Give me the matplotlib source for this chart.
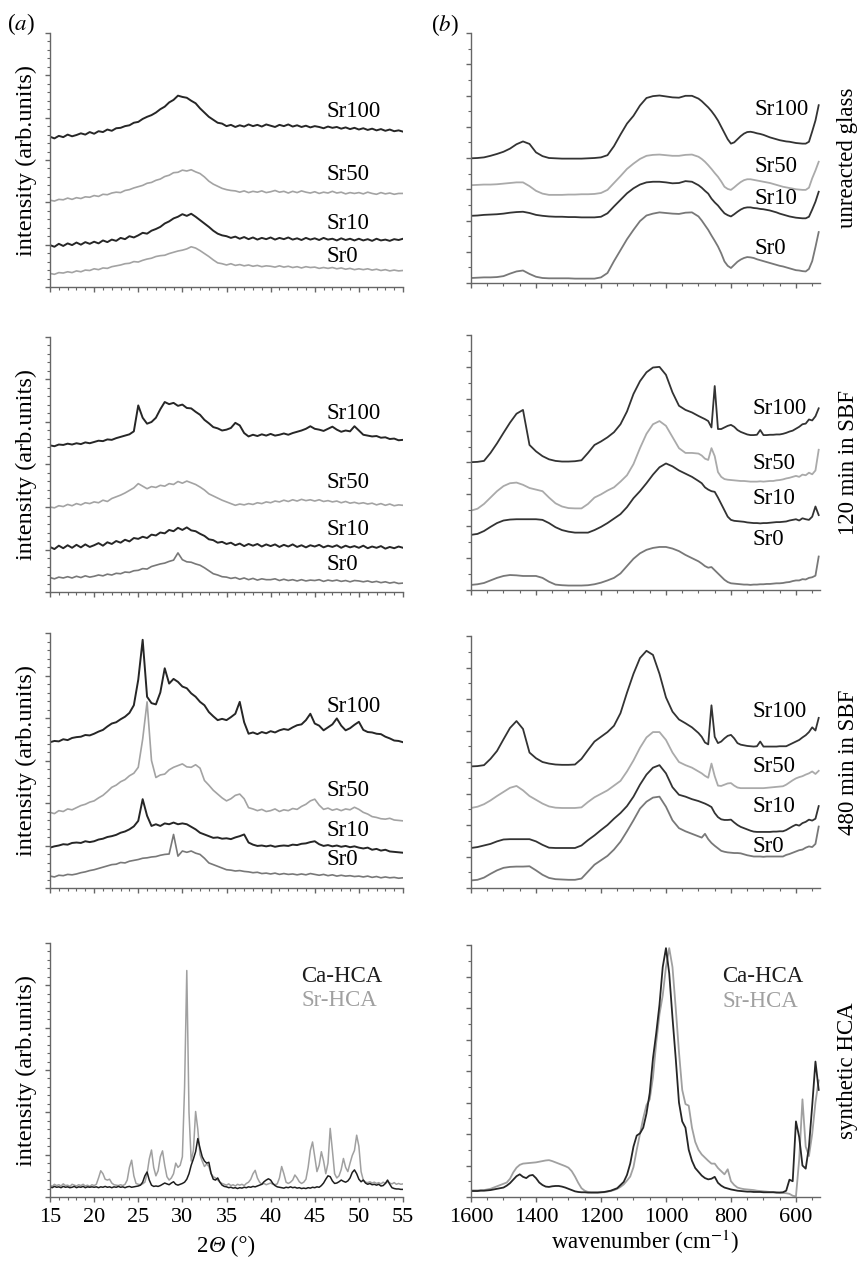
import numpy as np
import matplotlib
matplotlib.use("Agg")
import matplotlib.pyplot as plt
from matplotlib.ticker import MultipleLocator
from matplotlib.offsetbox import TextArea, HPacker, AnchoredOffsetbox

# ---------------------------------------------------------------- data
samples = ["Sr100", "Sr50", "Sr10", "Sr0"]
conditions = ["unreacted glass", "120 min in SBF", "480 min in SBF", "synthetic HCA"]
hca_names = ["Ca-HCA", "Sr-HCA"]

# XRD sampling (2 theta, degrees)
two_theta = np.arange(15, 55.01, 0.5)
two_theta_hca = np.arange(15, 55.01, 0.25)

# XRD, unreacted glass
xrd_glass_sr100 = [3.55, 3.51, 3.57, 3.54, 3.60, 3.56, 3.59, 3.63, 3.60, 3.66,
                   3.62, 3.68, 3.66, 3.72, 3.69, 3.75, 3.76, 3.80, 3.82, 3.88,
                   3.90, 3.97, 4.02, 4.06, 4.12, 4.20, 4.26, 4.36, 4.42, 4.52,
                   4.49, 4.47, 4.40, 4.34, 4.22, 4.12, 4.02, 3.95, 3.88, 3.86,
                   3.80, 3.83, 3.78, 3.82, 3.79, 3.84, 3.80, 3.83, 3.79, 3.84,
                   3.81, 3.78, 3.83, 3.80, 3.84, 3.79, 3.82, 3.78, 3.81, 3.77,
                   3.80, 3.78, 3.75, 3.79, 3.76, 3.78, 3.74, 3.77, 3.73, 3.76,
                   3.72, 3.75, 3.71, 3.74, 3.70, 3.73, 3.69, 3.72, 3.68, 3.70,
                   3.67]
xrd_glass_sr50 = [2.05, 2.03, 2.07, 2.06, 2.10, 2.07, 2.11, 2.09, 2.13, 2.12,
                  2.16, 2.14, 2.19, 2.18, 2.22, 2.24, 2.23, 2.28, 2.30, 2.34,
                  2.37, 2.40, 2.45, 2.47, 2.52, 2.55, 2.61, 2.64, 2.70, 2.71,
                  2.76, 2.74, 2.77, 2.72, 2.68, 2.60, 2.50, 2.43, 2.38, 2.33,
                  2.30, 2.28, 2.27, 2.24, 2.27, 2.23, 2.26, 2.24, 2.27, 2.23,
                  2.25, 2.28, 2.24, 2.26, 2.22, 2.26, 2.23, 2.27, 2.24, 2.22,
                  2.25, 2.21, 2.24, 2.22, 2.26, 2.22, 2.24, 2.20, 2.23, 2.21,
                  2.23, 2.20, 2.24, 2.21, 2.19, 2.23, 2.20, 2.22, 2.19, 2.21,
                  2.21]
xrd_glass_sr10 = [0.99, 0.95, 1.02, 0.97, 1.03, 0.99, 1.05, 1.00, 1.06, 1.02,
                  1.07, 1.03, 1.10, 1.06, 1.12, 1.09, 1.16, 1.13, 1.20, 1.17,
                  1.22, 1.28, 1.26, 1.33, 1.37, 1.42, 1.50, 1.55, 1.62, 1.66,
                  1.72, 1.68, 1.73, 1.66, 1.58, 1.50, 1.42, 1.33, 1.26, 1.22,
                  1.20, 1.16, 1.19, 1.14, 1.18, 1.13, 1.17, 1.12, 1.16, 1.13,
                  1.17, 1.12, 1.16, 1.13, 1.17, 1.12, 1.15, 1.11, 1.16, 1.12,
                  1.15, 1.11, 1.16, 1.12, 1.14, 1.10, 1.15, 1.11, 1.14, 1.10,
                  1.14, 1.10, 1.13, 1.09, 1.14, 1.10, 1.12, 1.09, 1.13, 1.11,
                  1.14]
xrd_glass_sr0 = [0.32, 0.30, 0.34, 0.33, 0.36, 0.34, 0.38, 0.36, 0.40, 0.39,
                 0.43, 0.41, 0.45, 0.44, 0.48, 0.50, 0.52, 0.55, 0.56, 0.60,
                 0.59, 0.63, 0.66, 0.68, 0.72, 0.74, 0.75, 0.79, 0.82, 0.85,
                 0.87, 0.90, 0.95, 0.92, 0.86, 0.79, 0.72, 0.64, 0.57, 0.55,
                 0.52, 0.55, 0.51, 0.53, 0.50, 0.52, 0.49, 0.51, 0.48, 0.50,
                 0.49, 0.47, 0.50, 0.47, 0.49, 0.46, 0.48, 0.45, 0.48, 0.46,
                 0.47, 0.44, 0.46, 0.44, 0.46, 0.43, 0.45, 0.42, 0.44, 0.41,
                 0.43, 0.41, 0.43, 0.40, 0.42, 0.39, 0.41, 0.38, 0.40, 0.38,
                 0.39]

# XRD, 120 min in SBF
xrd_120_sr100 = [3.45, 3.43, 3.47, 3.46, 3.49, 3.47, 3.50, 3.48, 3.52, 3.50,
                 3.53, 3.56, 3.55, 3.59, 3.58, 3.62, 3.65, 3.68, 3.71, 3.78,
                 4.39, 4.10, 3.96, 4.00, 4.10, 4.30, 4.47, 4.42, 4.45, 4.38,
                 4.41, 4.33, 4.32, 4.24, 4.17, 4.05, 3.97, 3.88, 3.85, 3.80,
                 3.82, 3.86, 3.98, 3.92, 3.74, 3.66, 3.70, 3.67, 3.71, 3.68,
                 3.72, 3.68, 3.70, 3.73, 3.70, 3.74, 3.77, 3.80, 3.84, 3.90,
                 3.84, 3.82, 3.79, 3.84, 3.89, 3.82, 3.77, 3.80, 3.78, 3.90,
                 3.80, 3.70, 3.68, 3.66, 3.67, 3.63, 3.64, 3.60, 3.61, 3.57,
                 3.58]
xrd_120_sr50 = [2.00, 1.98, 2.03, 2.01, 2.06, 2.03, 2.08, 2.05, 2.10, 2.08,
                2.12, 2.10, 2.16, 2.13, 2.20, 2.24, 2.28, 2.33, 2.39, 2.45,
                2.55, 2.49, 2.43, 2.48, 2.46, 2.51, 2.49, 2.55, 2.53, 2.60,
                2.56, 2.61, 2.57, 2.53, 2.47, 2.40, 2.31, 2.26, 2.21, 2.16,
                2.12, 2.08, 2.04, 2.07, 2.05, 2.08, 2.06, 2.10, 2.08, 2.12,
                2.10, 2.14, 2.12, 2.16, 2.13, 2.17, 2.14, 2.18, 2.15, 2.17,
                2.14, 2.17, 2.13, 2.15, 2.12, 2.14, 2.10, 2.13, 2.09, 2.11,
                2.08, 2.10, 2.07, 2.09, 2.05, 2.08, 2.04, 2.07, 2.03, 2.05,
                2.04]
xrd_120_sr10 = [1.06, 1.01, 1.09, 1.03, 1.10, 1.04, 1.11, 1.05, 1.12, 1.06,
                1.10, 1.15, 1.09, 1.17, 1.13, 1.20, 1.16, 1.23, 1.19, 1.27,
                1.25, 1.30, 1.27, 1.35, 1.33, 1.40, 1.38, 1.46, 1.43, 1.51,
                1.46, 1.52, 1.45, 1.43, 1.37, 1.32, 1.24, 1.22, 1.16, 1.18,
                1.13, 1.16, 1.10, 1.14, 1.08, 1.13, 1.09, 1.13, 1.07, 1.12,
                1.08, 1.12, 1.06, 1.11, 1.07, 1.12, 1.06, 1.10, 1.05, 1.10,
                1.07, 1.11, 1.05, 1.09, 1.06, 1.10, 1.04, 1.09, 1.05, 1.08,
                1.04, 1.09, 1.03, 1.07, 1.04, 1.08, 1.02, 1.06, 1.03, 1.07,
                1.04]
xrd_120_sr0 = [0.34, 0.31, 0.35, 0.33, 0.36, 0.33, 0.37, 0.34, 0.38, 0.35,
               0.37, 0.40, 0.38, 0.42, 0.40, 0.44, 0.43, 0.47, 0.46, 0.50,
               0.51, 0.55, 0.54, 0.60, 0.63, 0.66, 0.68, 0.72, 0.75, 0.92,
               0.76, 0.71, 0.70, 0.66, 0.63, 0.57, 0.50, 0.43, 0.40, 0.36,
               0.35, 0.32, 0.34, 0.30, 0.33, 0.29, 0.32, 0.28, 0.31, 0.29,
               0.29, 0.31, 0.27, 0.30, 0.27, 0.29, 0.26, 0.29, 0.26, 0.28,
               0.27, 0.29, 0.25, 0.28, 0.26, 0.28, 0.25, 0.27, 0.24, 0.27,
               0.26, 0.24, 0.26, 0.23, 0.25, 0.22, 0.24, 0.21, 0.23, 0.20,
               0.21]

# XRD, 480 min in SBF
xrd_480_sr100 = [3.43, 3.46, 3.45, 3.50, 3.48, 3.53, 3.55, 3.56, 3.60, 3.59,
                 3.63, 3.68, 3.72, 3.80, 3.87, 3.90, 3.97, 4.03, 4.12, 4.30,
                 4.90, 5.84, 4.50, 4.35, 4.32, 4.60, 5.17, 4.81, 4.92, 4.85,
                 4.74, 4.70, 4.58, 4.50, 4.38, 4.30, 4.14, 4.04, 3.95, 3.98,
                 3.95, 4.02, 4.10, 4.38, 3.90, 3.63, 3.66, 3.62, 3.67, 3.64,
                 3.69, 3.66, 3.71, 3.74, 3.72, 3.78, 3.83, 3.85, 3.95, 4.10,
                 3.87, 3.82, 3.71, 3.78, 3.85, 3.99, 3.82, 3.71, 3.76, 3.84,
                 3.91, 3.72, 3.67, 3.66, 3.63, 3.62, 3.56, 3.52, 3.47, 3.46,
                 3.43]
xrd_480_sr50 = [1.78, 1.75, 1.82, 1.80, 1.86, 1.84, 1.89, 1.94, 1.97, 2.02,
                2.05, 2.12, 2.18, 2.27, 2.37, 2.42, 2.50, 2.55, 2.64, 2.70,
                2.84, 3.50, 4.38, 3.00, 2.60, 2.66, 2.68, 2.78, 2.84, 2.88,
                2.92, 2.85, 2.84, 2.90, 2.82, 2.53, 2.42, 2.30, 2.21, 2.12,
                2.05, 2.10, 2.18, 2.21, 2.10, 1.89, 1.86, 1.82, 1.85, 1.80,
                1.82, 1.86, 1.80, 1.84, 1.82, 1.87, 1.85, 1.92, 1.97, 2.05,
                2.09, 1.95, 1.85, 1.88, 1.83, 1.86, 1.82, 1.86, 1.84, 1.90,
                1.85, 1.78, 1.74, 1.68, 1.66, 1.63, 1.62, 1.64, 1.60, 1.59,
                1.58]
xrd_480_sr10 = [0.95, 0.98, 1.00, 1.03, 1.02, 1.06, 1.07, 1.06, 1.10, 1.08,
                1.10, 1.14, 1.16, 1.20, 1.22, 1.25, 1.30, 1.33, 1.38, 1.45,
                1.58, 2.09, 1.70, 1.46, 1.50, 1.46, 1.52, 1.50, 1.54, 1.50,
                1.52, 1.50, 1.44, 1.38, 1.30, 1.26, 1.22, 1.18, 1.19, 1.16,
                1.17, 1.15, 1.19, 1.22, 1.26, 1.07, 1.02, 0.99, 1.00, 0.98,
                1.00, 0.97, 0.99, 1.00, 0.99, 1.02, 1.01, 1.04, 1.05, 1.08,
                1.10, 1.03, 0.99, 1.01, 0.98, 1.00, 0.97, 0.99, 0.96, 0.98,
                0.95, 0.93, 0.95, 0.90, 0.92, 0.88, 0.90, 0.86, 0.85, 0.84,
                0.83]
xrd_480_sr0 = [0.28, 0.26, 0.30, 0.29, 0.32, 0.31, 0.33, 0.36, 0.38, 0.41,
               0.43, 0.46, 0.49, 0.52, 0.55, 0.56, 0.60, 0.59, 0.63, 0.65,
               0.67, 0.70, 0.71, 0.73, 0.74, 0.77, 0.79, 0.80, 1.26, 0.75,
               0.87, 0.84, 0.87, 0.82, 0.79, 0.70, 0.59, 0.55, 0.51, 0.47,
               0.43, 0.42, 0.40, 0.41, 0.39, 0.38, 0.36, 0.37, 0.34, 0.35,
               0.33, 0.35, 0.32, 0.34, 0.32, 0.33, 0.31, 0.33, 0.31, 0.34,
               0.32, 0.30, 0.32, 0.29, 0.31, 0.28, 0.30, 0.28, 0.29, 0.27,
               0.28, 0.26, 0.28, 0.25, 0.27, 0.24, 0.26, 0.24, 0.25, 0.23,
               0.24]

# XRD, synthetic HCA (finer sampling)
xrd_hca_ca = [0.24, 0.22, 0.25, 0.23, 0.24, 0.22, 0.25, 0.23, 0.24, 0.22, 0.23, 0.25, 0.22, 0.24, 0.23, 0.25, 0.22, 0.24, 0.23, 0.24,
              0.23, 0.24, 0.22, 0.24, 0.23, 0.25, 0.23, 0.24, 0.22, 0.24, 0.23, 0.25, 0.23, 0.24, 0.22, 0.24, 0.25, 0.23, 0.24, 0.25,
              0.26, 0.28, 0.35, 0.50, 0.59, 0.40, 0.28, 0.25, 0.26, 0.25, 0.27, 0.30, 0.33, 0.31, 0.29, 0.33, 0.36, 0.30, 0.28, 0.30,
              0.32, 0.35, 0.42, 0.55, 0.75, 0.90, 1.07, 1.38, 1.15, 0.95, 0.85, 0.80, 0.82, 0.56, 0.42, 0.40, 0.45, 0.35, 0.28, 0.25,
              0.24, 0.22, 0.23, 0.21, 0.22, 0.20, 0.22, 0.21, 0.23, 0.22, 0.24, 0.23, 0.25, 0.24, 0.26, 0.28, 0.30, 0.36, 0.40, 0.43,
              0.40, 0.32, 0.27, 0.24, 0.23, 0.22, 0.21, 0.23, 0.22, 0.24, 0.22, 0.23, 0.21, 0.22, 0.20, 0.21, 0.20, 0.22, 0.21, 0.23,
              0.22, 0.24, 0.23, 0.27, 0.33, 0.42, 0.50, 0.48, 0.38, 0.32, 0.33, 0.36, 0.40, 0.37, 0.35, 0.38, 0.45, 0.58, 0.64, 0.55,
              0.42, 0.36, 0.40, 0.33, 0.30, 0.32, 0.29, 0.30, 0.28, 0.30, 0.26, 0.27, 0.32, 0.40, 0.30, 0.22, 0.20, 0.19, 0.19, 0.18,
              0.18]
xrd_hca_sr = [0.28, 0.25, 0.30, 0.27, 0.29, 0.26, 0.31, 0.27, 0.28, 0.25, 0.30, 0.28, 0.26, 0.29, 0.27, 0.30, 0.26, 0.28, 0.25, 0.29,
              0.27, 0.30, 0.45, 0.62, 0.55, 0.42, 0.40, 0.42, 0.33, 0.29, 0.28, 0.27, 0.29, 0.27, 0.30, 0.40, 0.70, 0.87, 0.50, 0.32,
              0.30, 0.29, 0.31, 0.35, 0.55, 0.90, 1.11, 0.70, 0.50, 0.62, 0.95, 1.09, 0.75, 0.48, 0.40, 0.45, 0.55, 0.80, 0.70, 0.75,
              0.95, 2.60, 5.35, 2.00, 0.85, 1.10, 2.02, 1.60, 1.00, 0.85, 0.72, 0.78, 0.72, 0.55, 0.48, 0.45, 0.40, 0.35, 0.32, 0.30,
              0.28, 0.31, 0.27, 0.29, 0.26, 0.30, 0.28, 0.30, 0.27, 0.32, 0.35, 0.42, 0.55, 0.63, 0.45, 0.35, 0.30, 0.32, 0.29, 0.31,
              0.33, 0.30, 0.29, 0.31, 0.45, 0.72, 0.55, 0.35, 0.32, 0.35, 0.40, 0.52, 0.45, 0.36, 0.32, 0.35, 0.42, 0.70, 1.10, 1.30,
              0.95, 0.60, 0.75, 1.07, 0.85, 0.55, 0.80, 1.62, 1.10, 0.55, 0.45, 0.50, 0.65, 0.91, 0.70, 0.60, 0.80, 0.98, 1.10, 1.46,
              1.20, 0.60, 0.40, 0.35, 0.34, 0.36, 0.33, 0.35, 0.32, 0.34, 0.31, 0.35, 0.32, 0.36, 0.33, 0.31, 0.34, 0.30, 0.32, 0.30,
              0.31]

# FTIR sampling (cm-1)
wavenumber = np.concatenate([np.arange(1600, 899, -20), np.arange(890, 529, -10)])
wavenumber_hca = np.arange(1600, 529, -10)

# FTIR, unreacted glass
ir_glass_sr100 = [3.99, 4.00, 4.02, 4.07, 4.13, 4.20, 4.30, 4.44, 4.53, 4.45,
                  4.18, 4.06, 4.00, 3.99, 3.98, 3.98, 3.98, 3.98, 3.99, 4.00,
                  4.02, 4.09, 4.38, 4.75, 5.10, 5.35, 5.68, 5.92, 5.98, 6.00,
                  5.97, 5.94, 5.93, 5.99, 5.99, 5.90,
                  5.82, 5.72, 5.62, 5.50, 5.36, 5.20, 5.00, 4.80, 4.60, 4.46,
                  4.50, 4.60, 4.70, 4.78, 4.83, 4.84, 4.82, 4.79, 4.77, 4.74,
                  4.70, 4.66, 4.63, 4.60, 4.57, 4.55, 4.53, 4.52, 4.50, 4.48,
                  4.47, 4.46, 4.46, 4.52, 4.85, 5.20, 5.69]
ir_glass_sr50 = [3.13, 3.14, 3.15, 3.15, 3.16, 3.18, 3.20, 3.22, 3.22, 3.10,
                 2.95, 2.86, 2.82, 2.82, 2.82, 2.83, 2.83, 2.84, 2.84, 2.85,
                 2.88, 2.98, 3.20, 3.42, 3.65, 3.82, 3.97, 4.07, 4.10, 4.11,
                 4.09, 4.07, 4.07, 4.10, 4.11, 4.04,
                 3.97, 3.88, 3.77, 3.65, 3.52, 3.40, 3.25, 3.08, 3.01, 2.98,
                 3.06, 3.15, 3.23, 3.29, 3.32, 3.32, 3.30, 3.28, 3.26, 3.24,
                 3.22, 3.20, 3.17, 3.14, 3.11, 3.08, 3.06, 3.04, 3.02, 3.00,
                 2.99, 2.98, 2.98, 3.05, 3.35, 3.60, 3.88]
ir_glass_sr10 = [2.15, 2.16, 2.18, 2.19, 2.20, 2.22, 2.25, 2.27, 2.28, 2.24,
                 2.18, 2.15, 2.13, 2.12, 2.12, 2.11, 2.11, 2.10, 2.10, 2.10,
                 2.12, 2.23, 2.45, 2.66, 2.87, 3.03, 3.15, 3.22, 3.24, 3.24,
                 3.22, 3.19, 3.20, 3.26, 3.24, 3.13,
                 3.05, 2.95, 2.86, 2.70, 2.58, 2.48, 2.35, 2.23, 2.17, 2.13,
                 2.20, 2.28, 2.35, 2.40, 2.42, 2.42, 2.40, 2.39, 2.37, 2.36,
                 2.34, 2.32, 2.29, 2.26, 2.22, 2.19, 2.16, 2.13, 2.11, 2.09,
                 2.08, 2.07, 2.07, 2.12, 2.35, 2.60, 2.92]
ir_glass_sr0 = [0.16, 0.17, 0.18, 0.18, 0.19, 0.22, 0.30, 0.37, 0.40, 0.29,
                0.20, 0.16, 0.15, 0.15, 0.15, 0.15, 0.14, 0.14, 0.14, 0.14,
                0.18, 0.32, 0.70, 1.05, 1.40, 1.70, 1.98, 2.16, 2.22, 2.26,
                2.24, 2.22, 2.21, 2.25, 2.26, 2.13,
                2.00, 1.85, 1.70, 1.52, 1.35, 1.17, 0.95, 0.69, 0.55, 0.48,
                0.58, 0.68, 0.75, 0.80, 0.83, 0.82, 0.80, 0.76, 0.73, 0.70,
                0.67, 0.64, 0.61, 0.58, 0.55, 0.53, 0.50, 0.47, 0.44, 0.41,
                0.40, 0.38, 0.37, 0.45, 0.70, 1.15, 1.63]

# FTIR, 120 min in SBF
ir_120_sr100 = [4.01, 4.02, 4.05, 4.30, 4.60, 4.93, 5.25, 5.53, 5.65, 4.55,
                4.35, 4.20, 4.10, 4.05, 4.03, 4.03, 4.04, 4.07, 4.30, 4.55,
                4.66, 4.79, 4.95, 5.20, 5.60, 6.15, 6.55, 6.83, 6.98, 7.00,
                6.75, 6.20, 5.78, 5.65, 5.57, 5.46,
                5.41, 5.36, 5.30, 5.10, 6.40, 5.05, 5.05, 5.10, 5.15, 5.18,
                5.12, 5.02, 4.96, 4.92, 4.88, 4.86, 4.86, 4.87, 5.02, 4.86,
                4.86, 4.87, 4.87, 4.88, 4.88, 4.90, 4.93, 4.97, 5.00, 5.06,
                5.12, 5.20, 5.22, 5.35, 5.32, 5.45, 5.70]
ir_120_sr50 = [2.49, 2.55, 2.70, 2.90, 3.10, 3.26, 3.35, 3.37, 3.30, 3.20,
               3.15, 3.10, 2.90, 2.72, 2.62, 2.57, 2.56, 2.56, 2.70, 2.90,
               3.00, 3.12, 3.22, 3.40, 3.60, 3.95, 4.45, 4.90, 5.20, 5.30,
               5.15, 4.80, 4.45, 4.30, 4.30, 4.28,
               4.22, 4.12, 4.08, 4.45, 4.20, 3.70, 3.55, 3.48, 3.46, 3.45,
               3.44, 3.43, 3.42, 3.42, 3.41, 3.40, 3.40, 3.40, 3.41, 3.40,
               3.41, 3.42, 3.42, 3.44, 3.45, 3.47, 3.50, 3.52, 3.55, 3.58,
               3.55, 3.62, 3.60, 3.68, 3.63, 3.75, 4.40]
ir_120_sr10 = [1.73, 1.76, 1.85, 1.98, 2.10, 2.18, 2.21, 2.22, 2.22, 2.22,
               2.22, 2.20, 2.10, 1.97, 1.88, 1.83, 1.80, 1.80, 1.80, 1.88,
               1.98, 2.10, 2.24, 2.38, 2.60, 2.88, 3.10, 3.35, 3.62, 3.85,
               3.97, 3.88, 3.75, 3.65, 3.55, 3.42,
               3.35, 3.22, 3.15, 3.10, 3.08, 2.90, 2.70, 2.50, 2.30, 2.20,
               2.17, 2.16, 2.15, 2.14, 2.12, 2.11, 2.10, 2.10, 2.09, 2.10,
               2.10, 2.11, 2.12, 2.13, 2.13, 2.14, 2.15, 2.18, 2.20, 2.22,
               2.18, 2.25, 2.22, 2.20, 2.30, 2.62, 2.35]
ir_120_sr0 = [0.16, 0.18, 0.22, 0.30, 0.38, 0.44, 0.47, 0.46, 0.44, 0.44,
              0.44, 0.38, 0.26, 0.17, 0.15, 0.14, 0.14, 0.14, 0.15, 0.18,
              0.23, 0.30, 0.38, 0.52, 0.75, 0.98, 1.15, 1.26, 1.32, 1.35,
              1.35, 1.30, 1.22, 1.10, 1.00, 0.90,
              0.83, 0.75, 0.70, 0.72, 0.62, 0.52, 0.42, 0.32, 0.25, 0.21,
              0.20, 0.19, 0.18, 0.17, 0.17, 0.16, 0.17, 0.17, 0.18, 0.18,
              0.19, 0.19, 0.20, 0.21, 0.21, 0.22, 0.24, 0.25, 0.28, 0.30,
              0.30, 0.34, 0.33, 0.38, 0.40, 0.45, 1.05]

# FTIR, 480 min in SBF
ir_480_sr100 = [3.86, 3.87, 3.90, 4.10, 4.35, 4.72, 5.08, 5.30, 5.05, 4.30,
                4.12, 4.00, 3.95, 3.92, 3.91, 3.91, 3.92, 4.10, 4.38, 4.65,
                4.80, 4.95, 5.15, 5.55, 6.20, 6.80, 7.30, 7.53, 7.40, 6.80,
                6.05, 5.60, 5.35, 5.23, 5.10, 4.92,
                4.80, 4.62, 4.56, 5.80, 4.80, 4.60, 4.65, 4.75, 4.83, 4.86,
                4.75, 4.60, 4.55, 4.53, 4.51, 4.50, 4.49, 4.50, 4.65, 4.49,
                4.49, 4.49, 4.49, 4.49, 4.50, 4.50, 4.50, 4.55, 4.60, 4.65,
                4.70, 4.78, 4.85, 4.95, 5.10, 5.00, 5.40]
ir_480_sr50 = [2.54, 2.58, 2.66, 2.78, 2.92, 3.05, 3.18, 3.24, 3.10, 2.92,
               2.80, 2.68, 2.59, 2.55, 2.54, 2.54, 2.54, 2.56, 2.73, 2.88,
               2.99, 3.10, 3.25, 3.40, 3.70, 4.05, 4.45, 4.78, 4.95, 4.95,
               4.70, 4.30, 4.00, 3.90, 3.82, 3.70,
               3.64, 3.56, 3.50, 3.95, 3.55, 3.25, 3.24, 3.28, 3.32, 3.33,
               3.25, 3.19, 3.17, 3.17, 3.17, 3.17, 3.17, 3.17, 3.17, 3.17,
               3.18, 3.19, 3.20, 3.21, 3.22, 3.23, 3.28, 3.35, 3.42, 3.48,
               3.52, 3.55, 3.60, 3.64, 3.70, 3.62, 3.72]
ir_480_sr10 = [1.27, 1.30, 1.35, 1.40, 1.48, 1.54, 1.55, 1.55, 1.55, 1.55,
               1.48, 1.37, 1.28, 1.27, 1.27, 1.27, 1.27, 1.35, 1.52, 1.67,
               1.84, 2.00, 2.20, 2.38, 2.60, 2.90, 3.28, 3.60, 3.82, 3.90,
               3.64, 3.20, 2.96, 2.90, 2.82, 2.76,
               2.72, 2.68, 2.63, 2.57, 2.38, 2.25, 2.18, 2.16, 2.16, 2.17,
               2.08, 2.00, 1.94, 1.90, 1.86, 1.82, 1.79, 1.78, 1.78, 1.78,
               1.78, 1.78, 1.79, 1.79, 1.80, 1.80, 1.84, 1.90, 1.96, 2.01,
               1.98, 2.06, 2.10, 2.17, 2.14, 2.20, 2.60]
ir_480_sr0 = [0.24, 0.26, 0.33, 0.45, 0.56, 0.64, 0.67, 0.68, 0.68, 0.69,
              0.56, 0.42, 0.32, 0.28, 0.27, 0.26, 0.26, 0.30, 0.52, 0.74,
              0.88, 1.02, 1.22, 1.47, 1.80, 2.15, 2.52, 2.74, 2.87, 2.90,
              2.58, 2.15, 1.90, 1.80, 1.72, 1.64,
              1.60, 1.72, 1.55, 1.43, 1.34, 1.26, 1.18, 1.15, 1.13, 1.12,
              1.11, 1.11, 1.10, 1.07, 1.04, 1.02, 1.00, 1.00, 1.00, 0.99,
              1.00, 1.00, 1.00, 1.00, 1.00, 1.00, 1.05, 1.08, 1.12, 1.16,
              1.20, 1.22, 1.28, 1.32, 1.30, 1.40, 1.95]

# FTIR, synthetic HCA
ir_hca_ca = [0.19, 0.19, 0.19, 0.20, 0.20, 0.21, 0.22, 0.24, 0.26, 0.28,
             0.30, 0.36, 0.44, 0.55, 0.66, 0.72, 0.64, 0.60, 0.68, 0.70,
             0.60, 0.46, 0.38, 0.33, 0.32, 0.34, 0.35, 0.35, 0.33, 0.30,
             0.26, 0.22, 0.18, 0.16, 0.15, 0.15, 0.14, 0.14, 0.14, 0.14,
             0.15, 0.16, 0.18, 0.20, 0.24, 0.28, 0.38, 0.48, 0.70, 1.06,
             1.60, 1.95, 2.02, 2.20, 2.65, 3.30, 4.40, 5.20, 6.10, 7.30,
             7.90, 7.10, 5.70, 4.40, 3.00, 2.40, 2.20, 1.50, 1.15, 0.92,
             0.80, 0.68, 0.60, 0.56, 0.58, 0.64, 0.45, 0.36, 0.30, 0.27,
             0.24, 0.22, 0.20, 0.19, 0.18, 0.17, 0.17, 0.16, 0.16, 0.16,
             0.15, 0.15, 0.15, 0.15, 0.14, 0.14, 0.15, 0.20, 0.55, 0.50,
             2.40, 1.90, 1.00, 0.90, 1.60, 2.90, 4.30, 3.40]
ir_hca_sr = [0.21, 0.21, 0.21, 0.22, 0.22, 0.24, 0.26, 0.30, 0.34, 0.38,
             0.42, 0.46, 0.58, 0.78, 0.93, 1.02, 1.06, 1.07, 1.08, 1.09,
             1.10, 1.12, 1.14, 1.16, 1.17, 1.14, 1.10, 1.06, 1.02, 0.98,
             0.93, 0.82, 0.65, 0.45, 0.28, 0.20, 0.16, 0.15, 0.15, 0.15,
             0.15, 0.15, 0.17, 0.19, 0.22, 0.26, 0.32, 0.40, 0.52, 0.65,
             0.95, 1.50, 2.00, 2.50, 2.92, 3.10, 3.80, 4.90, 5.80, 6.40,
             7.30, 7.90, 7.30, 6.00, 4.60, 3.40, 2.95, 2.90, 2.20, 1.75,
             1.50, 1.35, 1.25, 1.15, 1.06, 1.06, 0.92, 0.82, 0.72, 0.88,
             0.50, 0.38, 0.30, 0.27, 0.25, 0.24, 0.23, 0.22, 0.20, 0.19,
             0.18, 0.17, 0.16, 0.16, 0.15, 0.14, 0.13, 0.12, 0.10, 0.04,
             0.02, 1.20, 3.10, 1.60, 1.30, 2.00, 3.00, 3.70]

# ---------------------------------------------------------------- style
plt.rcParams["font.family"] = ["Liberation Serif", "DejaVu Serif"]
plt.rcParams["mathtext.fontset"] = "stix"

DARK = "#262626"
LIGHT = "#a3a3a3"
MID = "#787878"
AXIS = "#666666"
FS = 16.5

W, H = 858, 1261
fig = plt.figure(figsize=(W / 100, H / 100), dpi=100)


def add_axes(x0, x1, top, bottom):
    return fig.add_axes([x0 / W, 1 - bottom / H, (x1 - x0) / W, (bottom - top) / H])


def style_axes(ax, xrd, show_xlabels):
    for side in ("top", "right"):
        ax.spines[side].set_visible(False)
    for side in ("left", "bottom"):
        ax.spines[side].set_color(AXIS)
        ax.spines[side].set_linewidth(1.0)
    ax.tick_params(which="both", direction="out", colors=AXIS, labelcolor="black",
                   labelsize=16, pad=4)
    ax.tick_params(which="major", length=3.8, width=1.0)
    ax.tick_params(which="minor", length=2.2, width=0.8)
    ax.tick_params(axis="y", labelleft=False)
    ax.tick_params(axis="x", labelbottom=show_xlabels)
    if xrd:
        ax.set_xlim(15, 55)
        ax.set_ylim(0, 6)
        ax.xaxis.set_major_locator(MultipleLocator(5))
        ax.xaxis.set_minor_locator(MultipleLocator(1))
        ax.yaxis.set_major_locator(MultipleLocator(1))
        ax.yaxis.set_minor_locator(MultipleLocator(0.2))
        ax.set_ylabel("intensity (arb.units)", fontsize=17.5)
        ax.yaxis.set_label_coords(-0.037, 0.5)
    else:
        ax.set_xlim(1600, 526)
        ax.set_ylim(0, 8)
        ax.xaxis.set_major_locator(MultipleLocator(200))
        ax.xaxis.set_minor_locator(MultipleLocator(50))
        ax.yaxis.set_major_locator(MultipleLocator(1))
        ax.yaxis.set_minor_locator(MultipleLocator(0.5))


left_boxes = [(33, 287), (337, 592), (633, 888), (943, 1197)]
right_boxes = [(33, 283), (335, 590), (636, 888), (945, 1197)]

xrd_rows = [
    [xrd_glass_sr100, xrd_glass_sr50, xrd_glass_sr10, xrd_glass_sr0],
    [xrd_120_sr100, xrd_120_sr50, xrd_120_sr10, xrd_120_sr0],
    [xrd_480_sr100, xrd_480_sr50, xrd_480_sr10, xrd_480_sr0],
]
ir_rows = [
    [ir_glass_sr100, ir_glass_sr50, ir_glass_sr10, ir_glass_sr0],
    [ir_120_sr100, ir_120_sr50, ir_120_sr10, ir_120_sr0],
    [ir_480_sr100, ir_480_sr50, ir_480_sr10, ir_480_sr0],
]
xrd_colors = [[DARK, LIGHT, DARK, LIGHT], [DARK, LIGHT, DARK, MID], [DARK, LIGHT, DARK, MID]]
xrd_widths = [1.4, 1.2, 1.4, 1.2]
ir_colors = ["#333333", "#aaaaaa", "#333333", MID]

# label heights (axis units) for each row
xrd_label_y = [[4.14, 2.65, 1.49, 0.71], [4.20, 2.57, 1.48, 0.64], [4.27, 2.29, 1.36, 0.66]]
ir_label_y = [[5.54, 3.72, 2.71, 1.11], [5.70, 3.97, 2.87, 1.57], [5.60, 3.85, 2.58, 1.31]]
ir_label_x = [727, 734, 734]

for r in range(4):
    ax_l = add_axes(50, 403, *left_boxes[r])
    ax_r = add_axes(471, 820, *right_boxes[r])
    style_axes(ax_l, True, r == 3)
    style_axes(ax_r, False, r == 3)

    if r < 3:
        for s in range(4):
            ax_l.plot(two_theta, xrd_rows[r][s], color=xrd_colors[r][s], lw=xrd_widths[s])
            ax_l.text(46.3, xrd_label_y[r][s], samples[s], fontsize=FS,
                      ha="left", va="center")
            ax_r.plot(wavenumber, ir_rows[r][s], color=ir_colors[s], lw=1.3)
            ax_r.text(ir_label_x[r], ir_label_y[r][s], samples[s], fontsize=FS,
                      ha="left", va="center")
    else:
        ax_l.plot(two_theta_hca, xrd_hca_sr, color="#a0a0a0", lw=1.1)
        ax_l.plot(two_theta_hca, xrd_hca_ca, color="#1e1e1e", lw=1.1)
        ax_l.text(43.5, 5.2, hca_names[0], fontsize=FS, color="#1e1e1e", ha="left", va="center")
        ax_l.text(43.5, 4.64, hca_names[1], fontsize=FS, color="#a0a0a0", ha="left", va="center")
        ax_r.plot(wavenumber_hca, ir_hca_sr, color="#a0a0a0", lw=1.3)
        ax_r.plot(wavenumber_hca, ir_hca_ca, color="#262626", lw=1.3)
        ax_r.text(826, 6.99, hca_names[0], fontsize=FS, color="#1e1e1e", ha="left", va="center")
        ax_r.text(826, 6.22, hca_names[1], fontsize=FS, color="#a0a0a0", ha="left", va="center")

        # 2-theta label with an italic capital theta
        parts = [TextArea("2", textprops=dict(fontsize=FS)),
                 TextArea("\u0398", textprops=dict(fontsize=FS, style="italic")),
                 TextArea(" (°)", textprops=dict(fontsize=FS))]
        xlabel_box = AnchoredOffsetbox(loc="center",
                                       child=HPacker(children=parts, align="baseline", pad=0, sep=0),
                                       pad=0, borderpad=0, frameon=False,
                                       bbox_to_anchor=(0.5, -(1246 - 1197) / 254),
                                       bbox_transform=ax_l.transAxes)
        ax_l.add_artist(xlabel_box)
        ax_r.set_xlabel(r"wavenumber (cm$^{-1}$)", fontsize=FS, labelpad=1)

    top, bottom = right_boxes[r]
    fig.text(848 / W, 1 - (top + bottom) / 2 / H, conditions[r], rotation=90,
             fontsize=FS, ha="center", va="center")

fig.text(7 / W, 1 - 24 / H, r"($\mathit{a}$)", fontsize=FS, ha="left", va="center")
fig.text(431 / W, 1 - 25 / H, r"($\mathit{b}$)", fontsize=FS, ha="left", va="center")

fig.savefig("out.png", dpi=100)
